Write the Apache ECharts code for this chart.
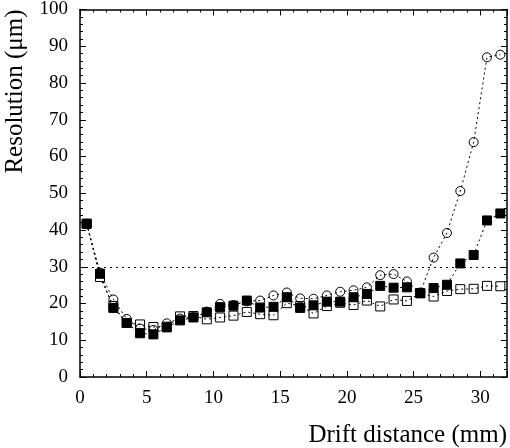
<!DOCTYPE html>
<html><head><meta charset="utf-8">
<script src="https://cdn.jsdelivr.net/npm/echarts@6/dist/echarts.min.js"></script>
<style>html,body{margin:0;padding:0;background:#fff}#c{width:510px;height:448px}</style>
</head><body><div id="c"></div>
<script>
const driftX = [0.5,1.5,2.5,3.5,4.5,5.5,6.5,7.5,8.5,9.5,10.5,11.5,12.5,13.5,14.5,15.5,16.5,17.5,18.5,19.5,20.5,21.5,22.5,23.5,24.5,25.5,26.5,27.5,28.5,29.5,30.5,31.5];
const openCircles = [41.7,28.4,21.1,15.8,13.2,12.8,14.6,15.9,16.3,17.8,19.9,19.6,20.6,20.8,22.2,23.0,21.4,21.3,22.2,23.2,23.6,24.4,27.7,28.0,26.0,23.0,32.5,39.2,50.6,63.9,87.0,87.7];
const filledSquares = [41.7,28.1,18.8,14.7,11.9,11.6,13.5,15.4,16.2,17.6,19.0,19.4,20.8,18.9,19.1,21.7,18.8,19.5,20.5,20.5,21.7,22.6,24.8,24.3,24.4,22.8,24.2,25.1,30.9,33.2,42.6,44.5];
const openSquares = [41.7,27.2,19.3,14.7,14.3,13.6,13.7,16.5,16.6,15.7,16.2,16.7,17.7,17.1,16.8,20.1,19.3,17.3,19.3,20.2,19.6,20.8,19.2,21.1,20.7,22.8,21.9,23.4,23.9,24.0,24.8,24.7];
const refLevel = 30;

const font = '"Liberation Serif","DejaVu Serif",serif';
const pairs = arr => driftX.map((x,i)=>[x,arr[i]]);
const chart = echarts.init(document.getElementById('c'));
const xBase = {type:'value',min:0,max:32,interval:5,
  axisLine:{show:true,onZero:false,lineStyle:{color:'#000',width:1.5}},
  axisTick:{show:true,inside:true,length:6,lineStyle:{color:'#000',width:1}},
  minorTick:{show:true,splitNumber:5,length:3,lineStyle:{color:'#000',width:1}},
  splitLine:{show:false}};
const yBase = {type:'value',min:0,max:100,interval:10,
  axisLine:{show:true,onZero:false,lineStyle:{color:'#000',width:1.5}},
  axisTick:{show:true,inside:true,length:6,lineStyle:{color:'#000',width:1}},
  minorTick:{show:true,splitNumber:5,length:3,lineStyle:{color:'#000',width:1}},
  splitLine:{show:false}};
const dash = {color:'#000',width:1,type:[2,3]};
chart.setOption({
  animation:false,
  grid:{left:80,right:0,top:7,bottom:65},
  xAxis:[
    Object.assign({},xBase,{position:'bottom',
      name:'Drift distance (mm)',nameLocation:'end',nameGap:0,
      nameTextStyle:{fontFamily:font,fontSize:25,color:'#000',align:'right',verticalAlign:'top',padding:[46,0,0,0]},
      axisLabel:{fontFamily:font,fontSize:19,color:'#000',margin:12,
        formatter:v=>(v>31?'':String(v))}}),
    Object.assign({},xBase,{position:'top',axisLabel:{show:false}})
  ],
  yAxis:[
    Object.assign({},yBase,{position:'left',
      name:'Resolution (\u03bcm)',nameLocation:'end',nameRotate:90,nameGap:0,
      nameTextStyle:{fontFamily:font,fontSize:25,color:'#000',align:'right',verticalAlign:'bottom',padding:[0,0,52,0]},
      axisLabel:{fontFamily:font,fontSize:19,color:'#000',margin:12,padding:[9,0,0,0]}}),
    Object.assign({},yBase,{position:'right',axisLabel:{show:false}})
  ],
  series:[
    {type:'line',data:pairs(openCircles),symbol:'circle',symbolSize:9,
     lineStyle:dash,itemStyle:{color:'rgba(0,0,0,0)',borderColor:'#000',borderWidth:1},z:2,
     markLine:{silent:true,symbol:'none',label:{show:false},
       lineStyle:{color:'#000',width:1,type:[2,4]},data:[{yAxis:refLevel}]}},
    {type:'line',data:pairs(openSquares),symbol:'rect',symbolSize:9,
     lineStyle:dash,itemStyle:{color:'rgba(0,0,0,0)',borderColor:'#000',borderWidth:1},z:3},
    {type:'line',data:pairs(filledSquares),symbol:'rect',symbolSize:9,
     lineStyle:dash,itemStyle:{color:'#000',borderColor:'#000',borderWidth:1},z:4}
  ]
});
</script></body></html>
